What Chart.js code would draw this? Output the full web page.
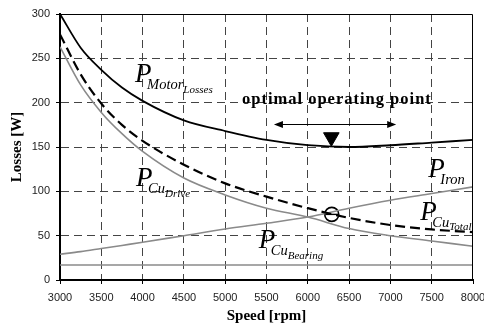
<!DOCTYPE html>
<html>
<head>
<meta charset="utf-8">
<script src="https://cdn.jsdelivr.net/npm/chart.js@4.4.0/dist/chart.umd.min.js"></script>
<style>
  html, body { margin: 0; padding: 0; background: #fff; }
  canvas { display: block; }
</style>
</head>
<body>
<canvas id="myChart" width="484" height="335"></canvas>
<script>
// speed [rpm] and losses [W]
var speeds = [3000, 3250, 3500, 3750, 4000, 4500, 5000, 5500, 6000, 6500, 7000, 7500, 8000];
var motorLosses = [300, 262, 237, 217, 202, 180, 168, 158, 152, 150, 152, 155, 158];
var cuTotal = [277, 232, 199, 175, 157, 130, 109, 94, 81, 70, 62, 57, 54];
var cuDrive = [263, 220, 189, 165, 145, 115, 96, 81, 71, 58, 50, 44, 38];
var ironLosses = [29, 32, 35.5, 39, 42.5, 50, 57.5, 64, 71, 81, 90, 97.5, 105];
var cuBearing = [17, 17, 17, 17, 17, 17, 17, 17, 17, 17, 17, 17, 17];

var speedTicks = [3000, 8000, 500];   // min, max, step
var lossTicks = [0, 300, 50];

var operatingPoint = [6290, 74];       // circle on P_Cu_Total
var optimumMark = [6285, 161];         // down triangle
var optimalRange = [5590, 7070, 176];  // arrow from, to, at loss
var optimalText = ["optimal operating point", 6346, 199];

// curve names: main letter, subscript, sub-subscript, anchor (speed, loss)
var curveLabels = [
  ["P", "Motor", "Losses", 3909, 223],
  ["P", "Cu", "Drive", 3921, 106],
  ["P", "Iron", "", 7459, 116],
  ["P", "Cu", "Total", 7362, 68],
  ["P", "Cu", "Bearing", 5407, 36]
];

function pts(values) {
  return speeds.map(function (s, i) {
    return { x: s, y: values[i] };
  });
}

var serif = "'Liberation Serif', 'DejaVu Serif', serif";
var sans = "'Liberation Sans', Arial, sans-serif";

// text drawn letter by letter, the original has loose spacing
function spacedText(ctx, text, cx, y, gap) {
  var widths = text.split("").map(function (ch) {
    return ctx.measureText(ch).width;
  });
  var total = widths.reduce(function (a, b) { return a + b; }, 0) + gap * (text.length - 1);
  var x = cx - total / 2;
  ctx.textAlign = "left";
  for (var i = 0; i < text.length; i++) {
    ctx.fillText(text[i], x, y);
    x += widths[i] + gap;
  }
}

var annotations = {
  id: "annotations",
  afterDatasetsDraw: function (chart) {
    var ctx = chart.ctx;
    var xs = chart.scales.x;
    var ys = chart.scales.y;
    var area = chart.chartArea;
    ctx.save();

    // plot frame (top and right)
    ctx.strokeStyle = "#000";
    ctx.lineWidth = 1;
    ctx.beginPath();
    var top = Math.round(area.top) + 0.5;
    var right = Math.round(area.right) - 0.5;
    ctx.moveTo(area.left, top);
    ctx.lineTo(right, top);
    ctx.lineTo(right, area.bottom);
    ctx.stroke();

    // curve names
    ctx.fillStyle = "#000";
    ctx.textBaseline = "alphabetic";
    ctx.textAlign = "left";
    curveLabels.forEach(function (l) {
      var px = xs.getPixelForValue(l[3]);
      var py = ys.getPixelForValue(l[4]);
      ctx.font = "italic 27px " + serif;
      ctx.fillText(l[0], px, py);
      ctx.font = "italic 14.5px " + serif;
      ctx.fillText(l[1], px + 12, py + 7);
      var w = ctx.measureText(l[1]).width;
      ctx.font = "italic 11px " + serif;
      ctx.fillText(l[2], px + 12 + w, py + 10.5);
    });

    // optimal range text and arrow
    ctx.font = "bold 16.5px " + serif;
    spacedText(ctx, optimalText[0], xs.getPixelForValue(optimalText[1]), ys.getPixelForValue(optimalText[2]), 1);

    var ay = Math.round(ys.getPixelForValue(optimalRange[2])) + 0.5;
    var ax1 = xs.getPixelForValue(optimalRange[0]);
    var ax2 = xs.getPixelForValue(optimalRange[1]);
    ctx.lineWidth = 1.2;
    ctx.beginPath();
    ctx.moveTo(ax1 + 4, ay);
    ctx.lineTo(ax2 - 4, ay);
    ctx.stroke();
    ctx.beginPath();
    ctx.moveTo(ax1, ay);
    ctx.lineTo(ax1 + 9, ay - 3.5);
    ctx.lineTo(ax1 + 9, ay + 3.5);
    ctx.closePath();
    ctx.moveTo(ax2, ay);
    ctx.lineTo(ax2 - 9, ay - 3.5);
    ctx.lineTo(ax2 - 9, ay + 3.5);
    ctx.closePath();
    ctx.fill();

    ctx.restore();
  }
};

var ctx = document.getElementById("myChart").getContext("2d");
var chart = new Chart(ctx, {
  type: "line",
  data: {
    datasets: [
      {
        data: pts(motorLosses),
        borderColor: "#000",
        borderWidth: 1.8,
      },
      {
        data: pts(cuTotal),
        borderColor: "#000",
        borderWidth: 2.2,
        borderDash: [10, 5],
      },
      {
        data: pts(cuDrive),
        borderColor: "#8a8a8a",
        borderWidth: 1.6,
      },
      {
        data: pts(ironLosses),
        borderColor: "#8a8a8a",
        borderWidth: 1.6,
      },
      {
        data: pts(cuBearing),
        borderColor: "#8a8a8a",
        borderWidth: 1.6,
      },
      {
        type: "scatter",
        data: [{ x: operatingPoint[0], y: operatingPoint[1] }],
        pointStyle: "circle",
        pointRadius: 7,
        pointBackgroundColor: "rgba(0,0,0,0)",
        pointBorderColor: "#000",
        pointBorderWidth: 1.6,
      },
      {
        type: "scatter",
        data: [{ x: operatingPoint[0], y: operatingPoint[1] }],
        pointStyle: "line",
        pointRadius: 7,
        pointBorderColor: "#000",
        pointBorderWidth: 1.4,
      },
      {
        type: "scatter",
        data: [{ x: optimumMark[0], y: optimumMark[1] }],
        pointStyle: "triangle",
        rotation: 180,
        pointRadius: 9,
        pointBackgroundColor: "#000",
        pointBorderColor: "#000",
        pointBorderWidth: 1,
      },
    ],
  },
  options: {
    responsive: false,
    animation: false,
    devicePixelRatio: 1,
    layout: { padding: { top: 14, right: 11, bottom: 0, left: 0 } },
    elements: {
      line: { cubicInterpolationMode: "monotone", fill: false },
      point: { radius: 0 },
    },
    plugins: {
      legend: { display: false },
      tooltip: { enabled: false },
    },
    scales: {
      x: {
        type: "linear",
        min: speedTicks[0],
        max: speedTicks[1],
        ticks: {
          stepSize: speedTicks[2],
          color: "#222",
          font: { family: sans, size: 11 },
          padding: 7,
          maxRotation: 0,
          callback: function (v) { return String(v); },
        },
        grid: {
          color: function (c) {
            return c.tick && c.tick.value === speedTicks[1] ? "rgba(0,0,0,0)" : "#444";
          },
          lineWidth: 1,
          tickColor: "#000",
          tickLength: 4,
        },
        border: { color: "#000", width: 2, dash: [8, 5] },
        title: {
          display: true,
          text: "Speed [rpm]",
          color: "#000",
          font: { family: serif, size: 15, weight: "bold" },
          padding: { top: 0, bottom: 10 },
        },
        afterFit: function (s) {
          s.height = 55;
          s.paddingLeft = 0;
          s.paddingRight = 0;
        },
      },
      y: {
        type: "linear",
        min: lossTicks[0],
        max: lossTicks[1],
        ticks: {
          stepSize: lossTicks[2],
          color: "#222",
          font: { family: sans, size: 11 },
          padding: 6,
          callback: function (v) { return String(v); },
        },
        grid: {
          color: function (c) {
            return c.tick && c.tick.value === lossTicks[1] ? "rgba(0,0,0,0)" : "#444";
          },
          lineWidth: 1,
          tickColor: "#000",
          tickLength: 4,
        },
        border: { color: "#000", width: 2, dash: [8, 5] },
        title: {
          display: true,
          text: "Losses [W]",
          color: "#000",
          font: { family: serif, size: 15, weight: "bold" },
          padding: { top: 8, bottom: 0 },
        },
        afterFit: function (s) {
          s.width = 60;
          s.paddingTop = 0;
          s.paddingBottom = 0;
        },
      },
    },
  },
  plugins: [annotations],
});
</script>
</body>
</html>
